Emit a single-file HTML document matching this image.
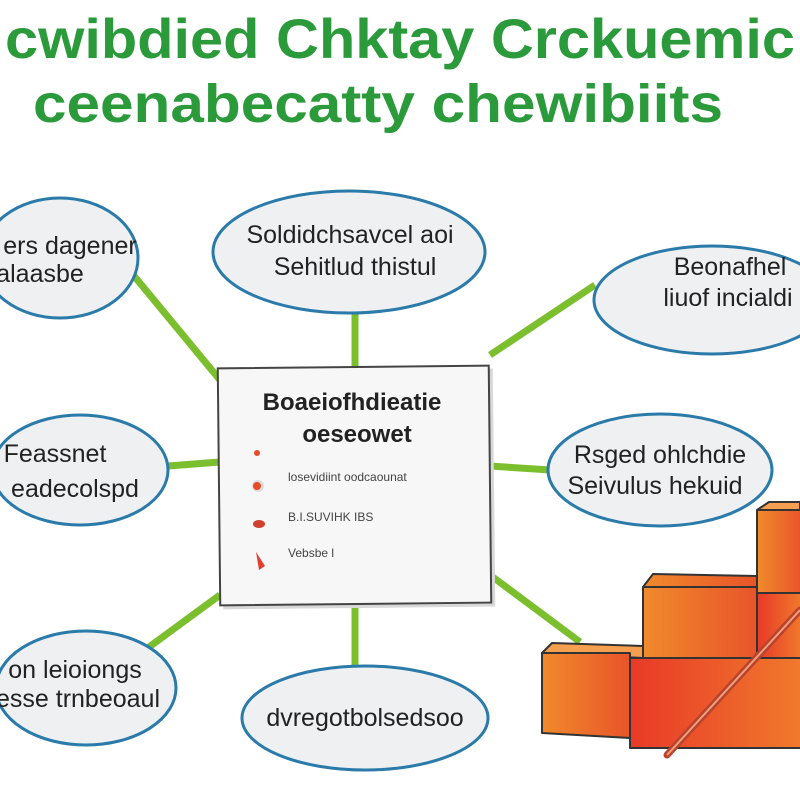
<!DOCTYPE html>
<html><head><meta charset="utf-8"><style>body{margin:0;background:#fff}svg{display:block}</style></head>
<body>
<svg width="800" height="800" viewBox="0 0 800 800" xmlns="http://www.w3.org/2000/svg" font-family="Liberation Sans, sans-serif">
<defs>
<linearGradient id="o1" x1="0" x2="1"><stop offset="0" stop-color="#f08a2c"/><stop offset="1" stop-color="#e8542a"/></linearGradient>
<linearGradient id="o2" x1="0" x2="1"><stop offset="0" stop-color="#e83a28"/><stop offset="1" stop-color="#f07a2c"/></linearGradient>
</defs>
<text x="400" y="58" text-anchor="middle" font-size="56" font-weight="bold" fill="#2a9a3a" textLength="790" lengthAdjust="spacingAndGlyphs">cwibdied Chktay Crckuemic</text>
<text x="378" y="122" text-anchor="middle" font-size="54" font-weight="bold" fill="#2a9a3a" textLength="690" lengthAdjust="spacingAndGlyphs">ceenabecatty chewibiits</text>
<g stroke="#7cbf2e" stroke-width="7">
<line x1="125" y1="265" x2="220" y2="380"/><line x1="355" y1="285" x2="355" y2="370"/>
<line x1="490" y1="355" x2="595" y2="285"/><line x1="168" y1="466" x2="220" y2="462"/>
<line x1="490" y1="466" x2="550" y2="470"/><line x1="220" y1="595" x2="145" y2="650"/>
<line x1="355" y1="605" x2="355" y2="670"/><line x1="490" y1="575" x2="580" y2="642"/>
</g>
<g fill="#eef0f2" stroke="#2a7aaa" stroke-width="3">
<ellipse cx="60" cy="258" rx="78" ry="60"/><ellipse cx="349" cy="252" rx="136" ry="61"/>
<ellipse cx="712" cy="300" rx="118" ry="54"/><ellipse cx="80" cy="470" rx="88" ry="55"/>
<ellipse cx="660" cy="470" rx="112" ry="56"/><ellipse cx="86" cy="688" rx="90" ry="57"/>
<ellipse cx="365" cy="718" rx="123" ry="52"/>
</g>
<g font-size="25" fill="#222" text-anchor="middle">
<text x="70" y="254">ers dagener</text><text x="40" y="282">alaasbe</text>
<text x="350" y="243">Soldidchsavcel aoi</text><text x="355" y="275">Sehitlud thistul</text>
<text x="730" y="275">Beonafhel</text><text x="728" y="306">liuof incialdi</text>
<text x="55" y="462">Feassnet</text><text x="75" y="497">eadecolspd</text>
<text x="660" y="463">Rsged ohlchdie</text><text x="655" y="494">Seivulus hekuid</text>
<text x="75" y="678">on leioiongs</text><text x="78" y="707">esse trnbeoaul</text>
<text x="365" y="726">dvregotbolsedsoo</text>
</g>
<g transform="rotate(-0.6 354 486)">
<rect x="222" y="370" width="272" height="238" fill="#d8d8d8"/>
<rect x="219" y="367" width="271" height="237" fill="#f7f7f7" stroke="#444" stroke-width="2"/>
</g>
<g fill="#222" text-anchor="middle" font-weight="bold">
<text x="352" y="410" font-size="24">Boaeiofhdieatie</text>
<text x="357" y="442" font-size="24">oeseowet</text>
</g>
<g font-size="12" fill="#444">
<text x="288" y="481">losevidiint oodcaounat</text>
<text x="288" y="521">B.I.SUVIHK IBS</text>
<text x="288" y="557">Vebsbe l</text>
</g>
<circle cx="257" cy="453" r="3" fill="#e84a2a"/>
<circle cx="258" cy="486" r="6" fill="#ddd"/><circle cx="257" cy="486" r="4" fill="#e84a2a"/>
<ellipse cx="259" cy="524" rx="6" ry="4" fill="#d04030"/>
<path d="M256 552 l3 18 l6 -4z" fill="#e04030"/>
<g stroke="#333" stroke-width="2" stroke-linejoin="round">
<path d="M757 510 l12 -8 h31 v8z" fill="#f5a050"/>
<rect x="757" y="510" width="45" height="83" fill="url(#o1)"/>
<rect x="757" y="593" width="45" height="75" fill="url(#o2)"/>
<path d="M643 587 l10 -13 l104 2 v12z" fill="url(#o1)"/>
<rect x="643" y="587" width="114" height="75" fill="url(#o1)"/>
<path d="M542 653 l10 -10 l91 3 v12z" fill="#f5a050"/>
<path d="M542 653 h88 v85 l-88 -5z" fill="url(#o1)"/>
<path d="M630 658 h172 v90 l-172 0z" fill="url(#o2)"/>
</g>
<line x1="667" y1="755" x2="800" y2="610" stroke="#b8432f" stroke-width="7" stroke-linecap="round"/>
<line x1="667" y1="755" x2="800" y2="610" stroke="#f2a07a" stroke-width="2"/>
</svg>
</body></html>
